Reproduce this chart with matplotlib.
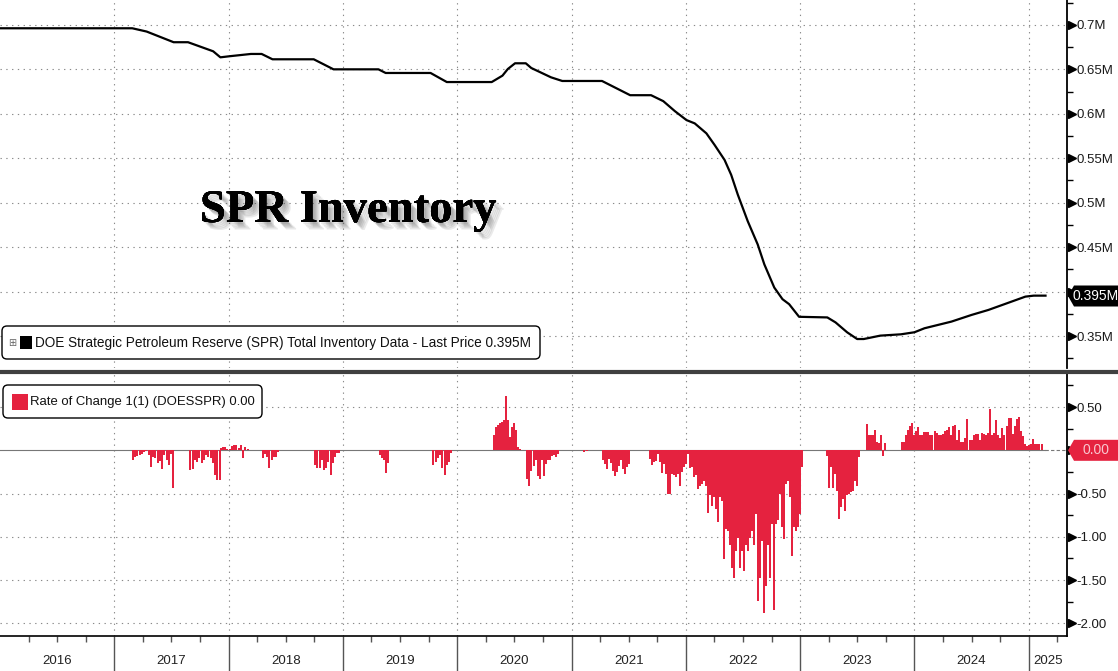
import numpy as np
import matplotlib
matplotlib.use("Agg")
import matplotlib.pyplot as plt
import matplotlib.patheffects as pe
from matplotlib.patches import Polygon, Rectangle, FancyBboxPatch
from matplotlib.transforms import blended_transform_factory, ScaledTranslation

SANS = ['Liberation Sans', 'DejaVu Sans']
RED = '#e5223f'

# SPR total inventory (M), x in decimal years
spr_x = [2016.0, 2017.157, 2017.283, 2017.519, 2017.645, 2017.865, 2017.928, 2018.006,
         2018.195, 2018.289, 2018.384, 2018.745, 2018.918, 2019.311, 2019.374, 2019.767,
         2019.909, 2020.302, 2020.396, 2020.443, 2020.506, 2020.600, 2020.648, 2020.821,
         2020.919, 2021.267, 2021.513, 2021.696, 2021.803, 2021.904, 2022.006, 2022.078,
         2022.180, 2022.252, 2022.339, 2022.397, 2022.455, 2022.542, 2022.629, 2022.687,
         2022.774, 2022.846, 2022.904, 2022.991, 2023.238, 2023.310, 2023.412, 2023.499,
         2023.557, 2023.701, 2023.882, 2024.000, 2024.088, 2024.324, 2024.500, 2024.647,
         2024.794, 2024.971, 2025.044, 2025.147]
spr_val = [0.6962, 0.6962, 0.6925, 0.6805, 0.6805, 0.6703, 0.6635, 0.6647,
           0.6673, 0.6673, 0.6613, 0.6613, 0.650, 0.650, 0.6459, 0.6459,
           0.6357, 0.6357, 0.6429, 0.6504, 0.6568, 0.6568, 0.6515, 0.641,
           0.6369, 0.6369, 0.6209, 0.6209, 0.6142, 0.603, 0.5929, 0.5892,
           0.578, 0.5649, 0.5481, 0.5313, 0.509, 0.4791, 0.453, 0.4306,
           0.4045, 0.3914, 0.3858, 0.3716, 0.3709, 0.3653, 0.3541, 0.3466,
           0.3466, 0.3504, 0.3519, 0.3542, 0.3587, 0.3662, 0.3737, 0.3793,
           0.3861, 0.3943, 0.3954, 0.3954]
last_price = 0.395

# weekly rate of change (%), one list per run of bars
roc_2017a = [-0.11, -0.08, -0.065, -0.055, -0.04, -0.015, -0.005, -0.055, -0.195, -0.075,
             -0.09, -0.15, -0.12, -0.22, -0.055, -0.11, -0.17, -0.04, -0.44]
roc_2017b = [-0.23, -0.22, -0.11, -0.14, -0.09, -0.15, -0.11, -0.055, -0.075, -0.09,
             -0.15, -0.285, -0.34, -0.34]
roc_2018a = [0.03, 0.04, 0.04, 0.02, 0.01, 0.05, 0.06, 0.06, 0.03, 0.06, -0.09, 0.04, 0.02]
roc_2018b = [-0.09, -0.04, -0.075, -0.21, -0.11, -0.075, -0.075, -0.015]
roc_2018c = [-0.17, -0.21, -0.21, -0.11, -0.23, -0.21, -0.14, -0.285, -0.15, -0.075,
             -0.035, -0.027]
roc_2019a = [-0.055, -0.09, -0.11, -0.26, -0.15]
roc_2019b = [-0.17, -0.13, -0.09, -0.055, -0.21, -0.285, -0.17, -0.14, -0.035]
roc_2020a = [0.176, 0.273, 0.293, 0.313, 0.332, 0.352, 0.633, 0.352, 0.156, 0.273,
             0.313, 0.234, 0.039, 0.02]
roc_2020b = [-0.33, -0.41, -0.234, -0.176, -0.117, -0.293, -0.33, -0.117, -0.293, -0.156,
             -0.117, -0.117, -0.07, -0.059, -0.078, -0.039]
roc_2021a = [-0.02, -0.01]
roc_2021b = [-0.117, -0.156, -0.215, -0.098, -0.148, -0.234, -0.293, -0.25, -0.176, -0.117,
             -0.215, -0.273, -0.195, -0.156]
roc_2022 = [-0.10, -0.17, -0.14, -0.12, -0.04, -0.14, -0.26, -0.16, -0.27, -0.50,
            -0.50, -0.27, -0.29, -0.31, -0.27, -0.41, -0.25, -0.19, -0.16, -0.04,
            -0.21, -0.19, -0.31, -0.29, -0.45, -0.41, -0.39, -0.35, -0.41, -0.72,
            -0.52, -0.64, -0.54, -0.68, -0.83, -0.54, -0.58, -1.26, -0.91, -0.93,
            -1.09, -1.36, -1.47, -1.16, -1.01, -1.36, -1.16, -1.40, -1.09, -1.16,
            -1.01, -0.93, -1.10, -0.74, -1.74, -1.47, -1.05, -1.88, -1.57, -1.09,
            -1.47, -0.85, -1.84, -0.85, -0.81, -0.50, -0.89, -1.03, -0.39, -0.35,
            -0.54, -1.22, -0.89, -0.93, -0.89, -0.74, -0.19]
roc_2023a = [-0.06, -0.43, -0.19, -0.43, -0.27, -0.47, -0.79, -0.66, -0.56, -0.70,
             -0.52, -0.50, -0.48, -0.47, -0.35, -0.41, -0.08]
roc_2023b = [0.30, 0.18, 0.18, 0.18, 0.24, 0.10, 0.08, 0.18, -0.06, 0.09]
roc_2024 = [0.10, 0.10, 0.18, 0.24, 0.28, 0.32, 0.18, 0.22, 0.27, 0.18,
            0.18, 0.21, 0.21, 0.21, 0.18, 0.18, 0.22, 0.20, 0.18, 0.18,
            0.19, 0.22, 0.23, 0.27, 0.18, 0.28, 0.29, 0.12, 0.23, 0.10,
            0.10, 0.14, 0.36, 0.12, 0.12, 0.18, 0.19, 0.19, 0.12, 0.20,
            0.19, 0.18, 0.20, 0.48, 0.18, 0.20, 0.35, 0.18, 0.14, 0.26,
            0.18, 0.28, 0.37, 0.37, 0.19, 0.28, 0.36, 0.38, 0.22, 0.16,
            0.07, 0.05, 0.06, 0.07, 0.13, 0.07, 0.07, 0.07, 0.07]

# (first week, last week, values)
roc_runs = [
    (2017.162, 2017.517, roc_2017a),
    (2017.665, 2017.922, roc_2017b),
    (2017.931, 2018.167, roc_2018a),
    (2018.300, 2018.433, roc_2018b),
    (2018.758, 2018.970, roc_2018c),
    (2019.325, 2019.393, roc_2019a),
    (2019.792, 2019.948, roc_2019b),
    (2020.326, 2020.549, roc_2020a),
    (2020.614, 2020.883, roc_2020b),
    (2021.106, 2021.134, roc_2021a),
    (2021.277, 2021.500, roc_2021b),
    (2021.688, 2023.017, roc_2022),
    (2023.233, 2023.516, roc_2023a),
    (2023.582, 2023.741, roc_2023b),
    (2023.888, 2025.112, roc_2024),
]

years = list(range(2016, 2026))
x_end = 2025.335

W, H = 1118, 671
fig = plt.figure(figsize=(W / 100, H / 100), dpi=100)
fig.patch.set_facecolor('white')

ax1 = fig.add_axes([0, 1 - 368 / H, 1067 / W, 368 / H])
ax2 = fig.add_axes([0, 35 / H, 1067 / W, 262 / H])

grid_kw = dict(color='#8a8a8a', linewidth=0.8, linestyle=(0, (1.2, 4)))

# ---- top panel
ax1.plot(spr_x, spr_val, color='black', linewidth=1.6, zorder=3)
ax1.set_xlim(2016, x_end)
ax1.set_ylim(0.314, 0.728)

top_ticks = [0.35, 0.4, 0.45, 0.5, 0.55, 0.6, 0.65, 0.7]
top_labels = ['0.35M', '', '0.45M', '0.5M', '0.55M', '0.6M', '0.65M', '0.7M']

# ---- bottom panel
for start, end, vals in roc_runs:
    xs = np.linspace(start, end, len(vals))
    ax2.bar(xs, vals, width=0.0175, color=RED, edgecolor='none', zorder=3)
ax2.plot([2016, 2025.14], [0, 0], color='#777777', linewidth=0.8, zorder=2)
ax2.plot([2025.14, x_end], [0, 0], color='#777777', linewidth=0.8, linestyle=(0, (3, 2)), zorder=2)
ax2.set_xlim(2016, x_end)
ax2.set_ylim(-2.146, 0.882)

bot_ticks = [-2.0, -1.5, -1.0, -0.5, 0.0, 0.5]
bot_labels = ['-2.00', '-1.50', '-1.00', '-0.50', '', '0.50']

for ax, ticks, labels, minor in [(ax1, top_ticks, top_labels, np.arange(0.325, 0.73, 0.05)),
                                   (ax2, bot_ticks, bot_labels, np.arange(-1.75, 0.8, 0.5))]:
    for s in ['top', 'left']:
        ax.spines[s].set_visible(False)
    ax.spines['right'].set_linewidth(1.3)
    ax.yaxis.tick_right()
    ax.set_yticks(ticks)
    ax.set_yticklabels(labels, fontsize=9.5, family=SANS, color='#1a1a1a')
    ax.set_yticks(minor, minor=True)
    ax.tick_params(axis='y', which='major', length=0, pad=7)
    ax.tick_params(axis='y', which='minor', length=4, width=1, direction='out')
    for t in ticks:
        if t != 0.0:
            ax.axhline(t, zorder=1, **grid_kw)
    for yv in years[1:]:
        ax.axvline(yv, zorder=1, **grid_kw)
    tr = blended_transform_factory(ax.transAxes, ax.transData)
    ax.plot([1.005] * len(ticks), ticks, marker='>', markersize=5.5, linestyle='none',
            color='black', transform=tr, clip_on=False, zorder=5)

ax1.spines['bottom'].set_visible(False)
ax1.set_xticks([])

# x axis: year boundaries and quarter marks
ax2.set_xticks(years[1:])
ax2.set_xticklabels([])
ax2.set_xticks(np.arange(2016.25, x_end, 0.25), minor=True)
ax2.tick_params(axis='x', which='major', length=25, width=1, color='#555555', direction='out')
ax2.tick_params(axis='x', which='minor', length=4, width=1, color='#555555', direction='out')
ax2.spines['bottom'].set_linewidth(1.2)
trx = blended_transform_factory(ax2.transData, ax2.transAxes)
for yv in years:
    mid = (yv + min(yv + 1, x_end)) / 2
    ax2.text(mid, -0.096, str(yv), transform=trx, ha='center', va='center',
             fontsize=9.5, family=SANS, color='#222222')

# panel divider
fig.add_artist(plt.Line2D([0, 1], [1 - 372 / H, 1 - 372 / H], transform=fig.transFigure,
                          color='#404040', linewidth=3))


def badge(ax, yv, text, face, txtcolor):
    base = blended_transform_factory(ax.transAxes, ax.transData)
    tr = fig.dpi_scale_trans + ScaledTranslation(1.0, yv, base)
    verts = [(0.01, 0), (0.07, 0.105), (0.53, 0.105), (0.53, -0.105), (0.07, -0.105)]
    fig.add_artist(Polygon(verts, closed=True, transform=tr, facecolor=face,
                           edgecolor='none', zorder=6))
    fig.text(0.29, 0, text, transform=tr, ha='center', va='center', fontsize=10,
             family=SANS, color=txtcolor, zorder=7)


badge(ax1, last_price, '0.395M', 'black', 'white')
badge(ax2, 0.0, '0.00', RED, '#f8c6cf')

# title with soft shadow
shadow = [pe.withSimplePatchShadow(offset=(o, -o), shadow_rgbFace='#555555', alpha=0.12)
          for o in (1.5, 2.5, 3.5, 4.5, 5.5)]
title = ax1.text(0.1874, 0.397, 'SPR Inventory', transform=ax1.transAxes, fontsize=34,
                 fontweight='bold', family=['Liberation Serif', 'DejaVu Serif'], color='black',
                 path_effects=shadow + [pe.Normal()], zorder=4)


# legends (positions in pixels from top-left)
def px(x, y):
    return x / 100, (H - y) / 100


box1 = FancyBboxPatch(px(2, 359), 5.38, 0.33, boxstyle='round,pad=0,rounding_size=0.05',
                      transform=fig.dpi_scale_trans, facecolor='white', edgecolor='black',
                      linewidth=1, zorder=8)
fig.add_artist(box1)
fig.text(*px(12, 342.5), '\u229e', transform=fig.dpi_scale_trans, ha='center', va='center',
         fontsize=7, color='#666666', family='DejaVu Sans', zorder=9)
fig.add_artist(Rectangle(px(20, 349), 0.12, 0.13, transform=fig.dpi_scale_trans,
                         facecolor='black', edgecolor='none', zorder=9))
leg1 = fig.text(*px(35, 342.5),
                'DOE Strategic Petroleum Reserve (SPR) Total Inventory Data - Last Price 0.395M',
                transform=fig.dpi_scale_trans, ha='left', va='center', fontsize=10,
                family=SANS, color='#111111', zorder=9)

box2 = FancyBboxPatch(px(3, 418), 2.59, 0.33, boxstyle='round,pad=0,rounding_size=0.05',
                      transform=fig.dpi_scale_trans, facecolor='white', edgecolor='black',
                      linewidth=1, zorder=8)
fig.add_artist(box2)
fig.add_artist(Rectangle(px(12, 410), 0.16, 0.16, transform=fig.dpi_scale_trans,
                         facecolor=RED, edgecolor='none', zorder=9))
leg2 = fig.text(*px(30, 402), 'Rate of Change 1(1) (DOESSPR) 0.00', transform=fig.dpi_scale_trans,
                ha='left', va='center', fontsize=10, family=SANS, color='#111111', zorder=9)

# fit legend and title texts to the widths they take in the chart
renderer = fig.canvas.get_renderer()
for t, width in [(leg1, 497), (leg2, 225), (title, 297)]:
    w = t.get_window_extent(renderer).width
    t.set_fontsize(t.get_fontsize() * width / w)

fig.savefig('out.png', dpi=100, facecolor='white')
